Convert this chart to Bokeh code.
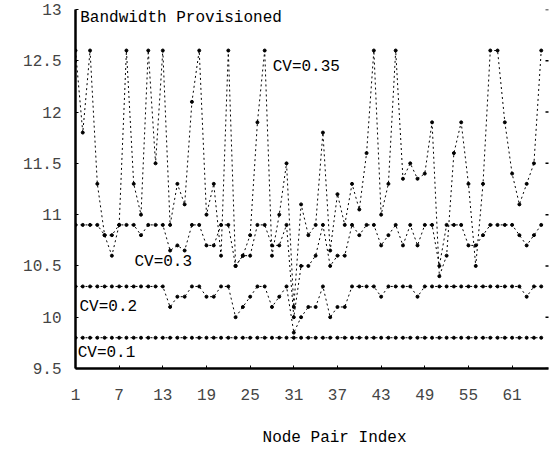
from bokeh.plotting import figure
from bokeh.models import Range1d, FixedTicker, Label
from bokeh.core.properties import value
from bokeh.embed import file_html
from bokeh.resources import INLINE

# Node pair index (x)
idx = list(range(1, 66))

# Bandwidth provisioned per series
cv35 = [12.6, 11.8, 12.6, 11.3, 10.8, 10.8, 10.9, 12.6, 11.3, 11.0,
        12.6, 11.5, 12.6, 10.9, 11.3, 11.1, 12.1, 12.6, 11.0, 11.3,
        10.6, 12.6, 10.5, 10.6, 10.8, 11.9, 12.6, 10.6, 11.0, 11.5,
        10.1, 11.1, 10.8, 10.9, 11.8, 10.65, 11.2, 10.9, 11.3, 11.05,
        11.6, 12.6, 11.0, 11.3, 12.6, 11.35, 11.5, 11.35, 11.4, 11.9,
        10.4, 10.6, 11.6, 11.9, 11.3, 10.5, 11.3, 12.6, 12.6, 11.9,
        11.4, 11.1, 11.3, 11.5, 12.6]

cv30 = [10.9, 10.9, 10.9, 10.9, 10.8, 10.6, 10.9, 10.9, 10.9, 10.8,
        10.9, 10.9, 10.9, 10.65, 10.7, 10.65, 10.9, 10.9, 10.7, 10.7,
        10.9, 10.9, 10.5, 10.6, 10.6, 10.9, 10.9, 10.7, 10.7, 10.9,
        10.0, 10.5, 10.5, 10.6, 10.9, 10.5, 10.6, 10.6, 10.9, 10.8,
        10.9, 10.9, 10.7, 10.8, 10.9, 10.7, 10.9, 10.7, 10.9, 10.9,
        10.5, 10.9, 10.9, 10.9, 10.7, 10.7, 10.8, 10.9, 10.9, 10.9,
        10.9, 10.8, 10.7, 10.8, 10.9]

cv20 = [10.3, 10.3, 10.3, 10.3, 10.3, 10.3, 10.3, 10.3, 10.3, 10.3,
        10.3, 10.3, 10.3, 10.1, 10.2, 10.2, 10.3, 10.3, 10.2, 10.2,
        10.3, 10.3, 10.0, 10.1, 10.2, 10.3, 10.3, 10.1, 10.2, 10.3,
        9.85, 10.0, 10.1, 10.1, 10.3, 10.0, 10.1, 10.1, 10.3, 10.3,
        10.3, 10.3, 10.2, 10.3, 10.3, 10.3, 10.3, 10.2, 10.3, 10.3,
        10.3, 10.3, 10.3, 10.3, 10.3, 10.3, 10.3, 10.3, 10.3, 10.3,
        10.3, 10.3, 10.2, 10.3, 10.3]

cv10 = [9.8, 9.8, 9.8, 9.8, 9.8, 9.8, 9.8, 9.8, 9.8, 9.8,
        9.8, 9.8, 9.8, 9.8, 9.8, 9.8, 9.8, 9.8, 9.8, 9.8,
        9.8, 9.8, 9.8, 9.8, 9.8, 9.8, 9.8, 9.8, 9.8, 9.8,
        9.8, 9.8, 9.8, 9.8, 9.8, 9.8, 9.8, 9.8, 9.8, 9.8,
        9.8, 9.8, 9.8, 9.8, 9.8, 9.8, 9.8, 9.8, 9.8, 9.8,
        9.8, 9.8, 9.8, 9.8, 9.8, 9.8, 9.8, 9.8, 9.8, 9.8,
        9.8, 9.8, 9.8, 9.8, 9.8]

x_ticks = [1, 7, 13, 19, 25, 31, 37, 43, 49, 55, 61]
y_ticks = [9.5, 10, 10.5, 11, 11.5, 12, 12.5, 13]
y_tick_labels = {10: "10", 11: "11", 12: "12", 13: "13"}
x_end = 66

# Series labels inside the plot (text, x, y)
label_text = ["CV=0.35", "CV=0.3", "CV=0.2", "CV=0.1", "Bandwidth Provisioned"]
label_x = [28.1, 9.1, 1.55, 1.3, 1.65]
label_y = [12.44, 10.54, 10.1, 9.65, 12.92]

# x-axis title: centred over this node-pair index
x_title = "Node Pair Index"
x_title_x = 36.6

FONT = "Liberation Mono"
FS = "16px"

p = figure(width=552, height=449, output_backend="svg", toolbar_location=None,
           x_range=Range1d(1, x_end), y_range=Range1d(9.5, 13),
           min_border_left=75, min_border_right=4, min_border_top=9,
           min_border_bottom=81)
p.outline_line_color = None
p.xgrid.visible = False
p.ygrid.visible = False
p.background_fill_color = "white"
p.border_fill_color = "white"

for ys in (cv35, cv30, cv20, cv10):
    p.line(idx, ys, line_color="black", line_width=1, line_dash="2 3")
    p.scatter(idx, ys, marker="circle", size=3, fill_color="black", line_color="black")

# small inward tick marks on the right edge
p.scatter([x_end] * len(y_ticks), y_ticks, marker="dash", size=6,
          line_color="black", line_width=1.5)

p.text(x=label_x, y=label_y, text=label_text, text_font=value(FONT),
       text_font_size=value(FS), text_align="left", text_baseline="middle",
       text_color="black")

xa = p.xaxis[0]
xa.ticker = FixedTicker(ticks=x_ticks)
xa.axis_line_width = 2.5
xa.major_tick_in = 3
xa.major_tick_out = 0
xa.minor_tick_line_color = None
xa.major_label_standoff = 20
xa.major_label_text_font = FONT
xa.major_label_text_font_size = FS

p.add_layout(Label(x=x_title_x, y=-17, x_units="data", y_units="screen",
                   text=x_title, text_font=FONT, text_font_size=FS,
                   text_align="center", text_baseline="middle",
                   text_color="black"), "below")

ya = p.yaxis[0]
ya.ticker = FixedTicker(ticks=y_ticks)
ya.major_label_overrides = y_tick_labels
ya.axis_line_width = 2.5
ya.major_tick_in = 3
ya.major_tick_out = 0
ya.minor_tick_line_color = None
ya.major_label_standoff = 14
ya.major_label_text_font = FONT
ya.major_label_text_font_size = FS

open("out.html", "w").write(file_html(p, INLINE))
